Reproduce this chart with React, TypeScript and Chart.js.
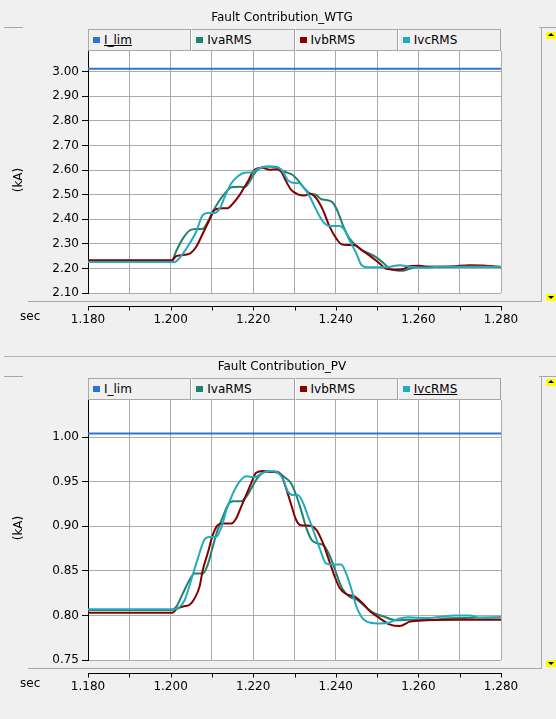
import React, { useEffect, useRef } from 'react';
import { Chart, registerables } from 'chart.js';

Chart.register(...registerables);

// ---------- tick values ----------
const X_TICKS = [1.18, 1.19, 1.2, 1.21, 1.22, 1.23, 1.24, 1.25, 1.26, 1.27, 1.28];
const WTG_Y_TICKS = [2.1, 2.2, 2.3, 2.4, 2.5, 2.6, 2.7, 2.8, 2.9, 3.0];
const PV_Y_TICKS = [0.75, 0.8, 0.85, 0.9, 0.95, 1.0];

const SERIES_NAMES = ['I_lim', 'IvaRMS', 'IvbRMS', 'IvcRMS'];

// ---------- Fault Contribution_WTG  [time (s), current (kA)] ----------
const WTG_ILIM: [number, number][] = [[1.18, 3.012], [1.28, 3.012]];
const WTG_IVA: [number, number][] = [
  [1.18, 2.229], [1.2002, 2.229], [1.2014, 2.272], [1.203, 2.322], [1.2046, 2.354], [1.2062, 2.36],
  [1.2078, 2.361], [1.209, 2.39], [1.2102, 2.43], [1.2119, 2.478], [1.2135, 2.512], [1.2147, 2.53],
  [1.2167, 2.532], [1.2179, 2.53], [1.2191, 2.553], [1.2203, 2.586], [1.2215, 2.607], [1.2232, 2.614],
  [1.2256, 2.611], [1.2276, 2.593], [1.2296, 2.58], [1.2308, 2.559], [1.2324, 2.525], [1.2337, 2.505],
  [1.2353, 2.498], [1.2365, 2.481], [1.2377, 2.478], [1.2393, 2.467], [1.2405, 2.43], [1.2417, 2.376],
  [1.2433, 2.322], [1.245, 2.292], [1.2466, 2.272], [1.2482, 2.26], [1.2498, 2.245], [1.2514, 2.224],
  [1.253, 2.2], [1.2563, 2.19], [1.2587, 2.203], [1.262, 2.207], [1.27, 2.207], [1.28, 2.206],
];
const WTG_IVB: [number, number][] = [
  [1.18, 2.233], [1.2004, 2.233], [1.2012, 2.248], [1.2022, 2.253], [1.2046, 2.26], [1.2062, 2.288],
  [1.2078, 2.342], [1.2094, 2.397], [1.2106, 2.437], [1.2119, 2.444], [1.2139, 2.445], [1.2151, 2.464],
  [1.2167, 2.498], [1.2179, 2.532], [1.2187, 2.553], [1.2199, 2.593], [1.2211, 2.607], [1.2224, 2.608],
  [1.224, 2.601], [1.2256, 2.603], [1.2268, 2.593], [1.228, 2.553], [1.2292, 2.519], [1.2308, 2.501],
  [1.2324, 2.496], [1.2337, 2.504], [1.2353, 2.485], [1.2369, 2.437], [1.2385, 2.37], [1.2401, 2.322],
  [1.2413, 2.299], [1.2429, 2.295], [1.2446, 2.294], [1.2462, 2.275], [1.2482, 2.252], [1.2506, 2.22],
  [1.2522, 2.198], [1.254, 2.195], [1.2563, 2.197], [1.2579, 2.21], [1.2603, 2.211], [1.2619, 2.207],
  [1.268, 2.208], [1.2724, 2.213], [1.2757, 2.212], [1.28, 2.206],
];
const WTG_IVC: [number, number][] = [
  [1.18, 2.226], [1.201, 2.226], [1.2018, 2.236], [1.203, 2.26], [1.2046, 2.301], [1.2062, 2.349],
  [1.2078, 2.417], [1.2094, 2.426], [1.2106, 2.425], [1.2119, 2.444], [1.2131, 2.491], [1.2147, 2.546],
  [1.2163, 2.575], [1.2179, 2.589], [1.2195, 2.59], [1.2215, 2.607], [1.224, 2.614], [1.2256, 2.613],
  [1.2272, 2.593], [1.2284, 2.559], [1.2296, 2.548], [1.2312, 2.546], [1.2324, 2.525], [1.2337, 2.491],
  [1.2353, 2.437], [1.2369, 2.39], [1.2385, 2.372], [1.2409, 2.372], [1.2421, 2.356], [1.2433, 2.315],
  [1.245, 2.26], [1.2462, 2.214], [1.2474, 2.205], [1.252, 2.205], [1.2555, 2.213], [1.258, 2.207],
  [1.2619, 2.203], [1.265, 2.207], [1.28, 2.207],
];

// ---------- Fault Contribution_PV  [time (s), current (kA)] ----------
const PV_ILIM: [number, number][] = [[1.18, 1.004], [1.28, 1.004]];
const PV_IVA: [number, number][] = [
  [1.18, 0.806], [1.2002, 0.806], [1.2014, 0.81], [1.203, 0.825], [1.2046, 0.84], [1.2058, 0.847],
  [1.2078, 0.847], [1.209, 0.857], [1.2102, 0.877], [1.2114, 0.896], [1.2127, 0.911], [1.2139, 0.924],
  [1.2151, 0.928], [1.2171, 0.928], [1.2183, 0.933], [1.2195, 0.942], [1.2207, 0.952], [1.222, 0.959],
  [1.2232, 0.961], [1.2248, 0.961], [1.2264, 0.959], [1.2276, 0.955], [1.2292, 0.948], [1.2304, 0.935],
  [1.2316, 0.918], [1.2328, 0.899], [1.2341, 0.885], [1.2353, 0.881], [1.2369, 0.879], [1.2381, 0.871],
  [1.2393, 0.858], [1.2405, 0.842], [1.2417, 0.829], [1.2433, 0.821], [1.245, 0.818], [1.2466, 0.812],
  [1.249, 0.803], [1.2514, 0.799], [1.2547, 0.7945], [1.2579, 0.795], [1.2619, 0.7948], [1.2676, 0.7967],
  [1.28, 0.798],
];
const PV_IVB: [number, number][] = [
  [1.18, 0.803], [1.2004, 0.803], [1.2014, 0.807], [1.203, 0.81], [1.2046, 0.812], [1.2058, 0.819],
  [1.207, 0.832], [1.2078, 0.851], [1.209, 0.87], [1.2102, 0.89], [1.2114, 0.901], [1.2127, 0.903],
  [1.2147, 0.903], [1.2159, 0.909], [1.2171, 0.922], [1.2183, 0.935], [1.2195, 0.948], [1.2207, 0.96],
  [1.2224, 0.962], [1.224, 0.961], [1.2256, 0.961], [1.2268, 0.957], [1.228, 0.942], [1.2292, 0.924],
  [1.2304, 0.907], [1.2316, 0.901], [1.2337, 0.9006], [1.2353, 0.896], [1.2369, 0.881], [1.2385, 0.86],
  [1.2397, 0.844], [1.2409, 0.831], [1.2425, 0.824], [1.2446, 0.821], [1.2466, 0.813], [1.2482, 0.805],
  [1.2506, 0.797], [1.253, 0.79], [1.2555, 0.788], [1.2579, 0.793], [1.262, 0.7945], [1.27, 0.795],
  [1.28, 0.795],
];
const PV_IVC: [number, number][] = [
  [1.18, 0.807], [1.201, 0.807], [1.2018, 0.808], [1.2034, 0.817], [1.205, 0.84], [1.2066, 0.864],
  [1.2082, 0.885], [1.2094, 0.888], [1.211, 0.888], [1.2123, 0.899], [1.2135, 0.918], [1.2151, 0.937],
  [1.2167, 0.95], [1.2183, 0.956], [1.2203, 0.955], [1.222, 0.959], [1.2236, 0.962], [1.2256, 0.961],
  [1.2272, 0.953], [1.2284, 0.939], [1.2296, 0.935], [1.2308, 0.935], [1.232, 0.927], [1.2332, 0.912],
  [1.2345, 0.896], [1.2361, 0.875], [1.2377, 0.858], [1.2393, 0.857], [1.2413, 0.857], [1.2425, 0.847],
  [1.2438, 0.829], [1.245, 0.81], [1.2466, 0.796], [1.2482, 0.792], [1.2506, 0.791], [1.253, 0.792],
  [1.255, 0.796], [1.2575, 0.798], [1.2619, 0.797], [1.2692, 0.8], [1.2724, 0.8], [1.275, 0.797],
  [1.28, 0.798],
];

const COLORS = ['#2a74d6', '#1e8270', '#870000', '#22abbd'];
const ORDERS = [3, 2, 1, 0];
const GRID = '#ababab';
const FONT = "'DejaVu Sans', 'Verdana', sans-serif";

Chart.defaults.font.family = FONT;
Chart.defaults.font.size = 12;
Chart.defaults.color = '#000';

type PanelCfg = {
  title: string;
  top: number; // canvas top (absolute)
  height: number; // canvas height
  titleY: number;
  legendTop: number;
  plotTop: number;
  plotBottom: number;
  sepY: number;
  axisY: number;
  kaY: number;
  secY: number;
  upY: number;
  downY: number;
  yMin: number;
  yMax: number;
  yTicks: number[];
  series: [number, number][][];
  underline: number;
};

const PLOT_LEFT = 88;
const PLOT_RIGHT = 501;
const W = 556;

const PANELS: PanelCfg[] = [
  {
    title: 'Fault Contribution_WTG', top: 0, height: 357, titleY: 17, legendTop: 29, plotTop: 51,
    plotBottom: 293, sepY: 301, axisY: 306, kaY: 180, secY: 316, upY: 32, downY: 294,
    yMin: 2.1, yMax: 3.084, yTicks: WTG_Y_TICKS, series: [WTG_ILIM, WTG_IVA, WTG_IVB, WTG_IVC], underline: 0,
  },
  {
    title: 'Fault Contribution_PV', top: 357, height: 362, titleY: 366, legendTop: 378, plotTop: 400,
    plotBottom: 660, sepY: 668, axisY: 673, kaY: 528, secY: 683, upY: 379, downY: 660,
    yMin: 0.75, yMax: 1.0415, yTicks: PV_Y_TICKS, series: [PV_ILIM, PV_IVA, PV_IVB, PV_IVC], underline: 3,
  },
];

function PanelChart({ cfg }: { cfg: PanelCfg }) {
  const ref = useRef<HTMLCanvasElement | null>(null);
  useEffect(() => {
    if (!ref.current) return;
    const relTop = cfg.plotTop - cfg.top;
    const xHeight = cfg.top + cfg.height - cfg.plotBottom;
    const axisOffset = cfg.axisY - cfg.plotBottom;

    const bgPlugin = {
      id: 'plotBg',
      beforeDraw(chart: any) {
        const { ctx, chartArea } = chart;
        ctx.save();
        ctx.fillStyle = '#ffffff';
        ctx.fillRect(chartArea.left, chartArea.top, chartArea.right - chartArea.left, chartArea.bottom - chartArea.top);
        ctx.restore();
      },
    };
    const axisPlugin = {
      id: 'detachedXAxis',
      afterDraw(chart: any) {
        const { ctx, chartArea } = chart;
        const xs = chart.scales.x;
        const y0 = Math.round(chartArea.bottom + axisOffset) + 0.5;
        ctx.save();
        ctx.strokeStyle = '#000';
        ctx.lineWidth = 1;
        ctx.beginPath();
        ctx.moveTo(chartArea.left, y0);
        ctx.lineTo(chartArea.right + 1, y0);
        for (const t of xs.ticks) {
          const px = Math.round(xs.getPixelForValue(t.value)) + 0.5;
          ctx.moveTo(px, y0);
          ctx.lineTo(px, y0 + 4);
        }
        ctx.stroke();
        ctx.restore();
      },
    };

    const chart = new Chart(ref.current, {
      type: 'line',
      data: {
        datasets: cfg.series.map((pts, i) => ({
          label: SERIES_NAMES[i],
          data: pts.map(([x, y]) => ({ x, y })),
          borderColor: COLORS[i],
          backgroundColor: COLORS[i],
          borderWidth: 2,
          pointRadius: 0,
          fill: false,
          cubicInterpolationMode: 'monotone',
          order: ORDERS[i],
        })),
      },
      options: {
        animation: false,
        responsive: false,
        devicePixelRatio: 1,
        events: [],
        layout: { padding: { left: 0, top: relTop, right: W - PLOT_RIGHT, bottom: 0 } },
        plugins: { legend: { display: false }, tooltip: { enabled: false }, title: { display: false } },
        scales: {
          x: {
            type: 'linear',
            min: X_TICKS[0],
            max: X_TICKS[X_TICKS.length - 1],
            afterBuildTicks: (s: any) => { s.ticks = X_TICKS.map((v) => ({ value: v })); },
            afterFit: (s: any) => { s.height = xHeight; },
            grid: { color: GRID, lineWidth: 1, drawTicks: false },
            border: { display: false },
            ticks: {
              padding: 20,
              color: '#000',
              autoSkip: false,
              maxRotation: 0,
              callback: (v: any) => (Math.round(Number(v) * 100) % 2 === 0 ? Number(v).toFixed(3) : ''),
            },
          },
          y: {
            type: 'linear',
            min: cfg.yMin,
            max: cfg.yMax,
            afterBuildTicks: (s: any) => { s.ticks = cfg.yTicks.map((v) => ({ value: v })); },
            afterFit: (s: any) => { s.width = PLOT_LEFT; },
            grid: { color: GRID, lineWidth: 1, tickColor: '#000', tickLength: 6 },
            border: { display: true, color: '#000', width: 1 },
            ticks: { padding: 3, color: '#000', autoSkip: false, callback: (v: any) => Number(v).toFixed(2) },
          },
        },
      },
      plugins: [bgPlugin, axisPlugin],
    } as any);
    return () => chart.destroy();
  }, [cfg]);

  const cellW = (PLOT_RIGHT - PLOT_LEFT) / 4;
  return (
    <>
      <canvas
        ref={ref}
        width={W}
        height={cfg.height}
        style={{ position: 'absolute', left: 0, top: cfg.top, width: W, height: cfg.height }}
      />
      {/* title */}
      <div style={{ position: 'absolute', left: 132, width: 300, top: cfg.titleY - 8, textAlign: 'center', lineHeight: '16px' }}>
        {cfg.title}
      </div>
      {/* small frame lines */}
      <div style={{ position: 'absolute', left: 4, top: cfg.legendTop - 2, width: 19, height: 1, background: '#a8a8a8' }} />
      <div style={{ position: 'absolute', left: 539, top: cfg.legendTop - 2, width: 17, height: 1, background: '#a8a8a8' }} />
      {/* legend */}
      {SERIES_NAMES.map((name, i) => (
        <div
          key={name}
          style={{
            position: 'absolute',
            left: PLOT_LEFT + i * cellW,
            top: cfg.legendTop,
            width: cellW,
            height: cfg.plotTop - cfg.legendTop,
            boxSizing: 'border-box',
            borderTop: '1px solid #a8a8a8',
            borderRight: '1px solid #a0a0a0',
            borderLeft: i === 0 ? '1px solid #a8a8a8' : '1px solid #ffffff',
            borderBottom: '1px solid #a8a8a8',
            background: '#f0f0f0',
          }}
        >
          <div style={{ position: 'absolute', left: 4, top: 7, width: 7, height: 6, background: COLORS[i] }} />
          <div
            style={{
              position: 'absolute',
              left: 15,
              top: 2,
              lineHeight: '16px',
              textDecoration: cfg.underline === i ? 'underline' : 'none',
            }}
          >
            {name}
          </div>
        </div>
      ))}
      {/* y title */}
      <div
        style={{
          position: 'absolute',
          left: 18 - 20,
          width: 40,
          top: cfg.kaY - 8,
          lineHeight: '16px',
          textAlign: 'center',
          transform: 'rotate(-90deg)',
        }}
      >
        (kA)
      </div>
      {/* separator above x axis */}
      <div style={{ position: 'absolute', left: 28, top: cfg.sepY, width: 514, height: 1, background: '#a8a8a8' }} />
      <div style={{ position: 'absolute', left: 20, top: cfg.secY - 8, lineHeight: '16px' }}>sec</div>
      {/* scrollbar */}
      <div style={{ position: 'absolute', left: 541, top: cfg.legendTop - 2, width: 1, height: cfg.sepY - cfg.legendTop + 3, background: '#a8a8a8' }} />
      <div style={{ position: 'absolute', left: 546, top: cfg.upY, width: 10, height: 7, background: '#ffff00' }}>
        <div style={{ position: 'absolute', left: 2, top: 1, width: 0, height: 0, borderLeft: '3px solid transparent', borderRight: '3px solid transparent', borderBottom: '3px solid #000' }} />
      </div>
      <div style={{ position: 'absolute', left: 546, top: cfg.downY, width: 10, height: 7, background: '#ffff00' }}>
        <div style={{ position: 'absolute', left: 2, top: 2, width: 0, height: 0, borderLeft: '3px solid transparent', borderRight: '3px solid transparent', borderTop: '3px solid #000' }} />
      </div>
    </>
  );
}

export default function App() {
  return (
    <div
      style={{
        position: 'fixed',
        left: 0,
        top: 0,
        width: W,
        height: 719,
        background: '#f0f0f0',
        overflow: 'hidden',
        fontFamily: FONT,
        fontSize: 12,
        color: '#000',
      }}
    >
      <div style={{ position: 'absolute', left: 4, top: 356, width: 552, height: 1, background: '#b4b4b4' }} />
      {PANELS.map((p) => (
        <PanelChart key={p.title} cfg={p} />
      ))}
    </div>
  );
}
